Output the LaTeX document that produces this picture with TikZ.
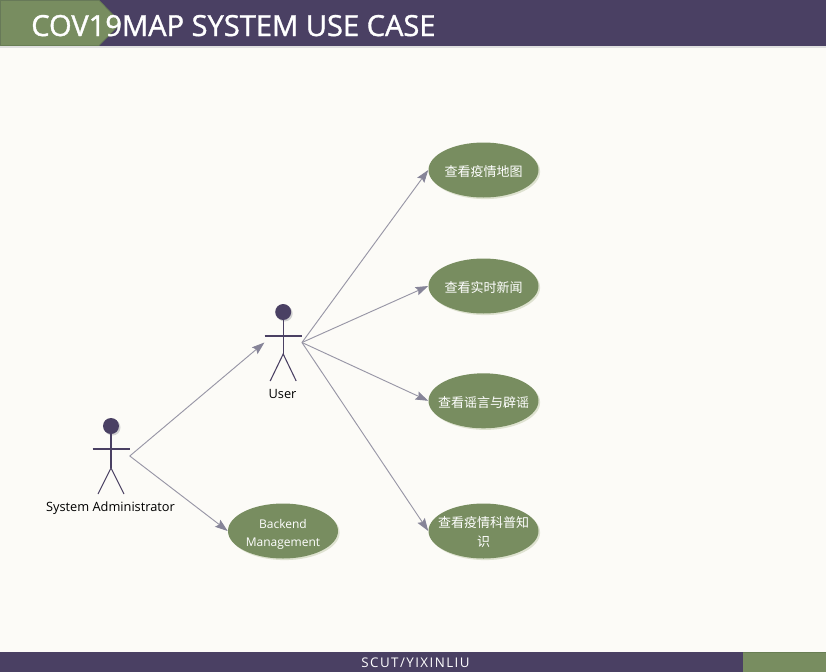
\documentclass[tikz,border=0pt]{standalone}
\usepackage{fontspec}
\setmainfont{Open Sans}
\newfontfamily\cjk{Noto Sans CJK SC}
\newfontfamily\titlefont[FakeBold=1.2]{Open Sans}
\newfontfamily\footfont[LetterSpace=11]{Open Sans}
\usetikzlibrary{arrows.meta,shapes.geometric}
\definecolor{bgc}{RGB}{252,251,247}
\definecolor{purp}{RGB}{74,64,99}
\definecolor{grn}{RGB}{120,141,96}
\definecolor{grnd}{RGB}{104,126,84}
\definecolor{shad}{RGB}{222,226,208}
\definecolor{linec}{RGB}{152,150,166}
\definecolor{tipc}{RGB}{134,132,152}
\tikzset{
  x=0.75pt,y=-0.75pt,
  usecase/.style={ellipse,fill=grn,minimum width=82.5pt,minimum height=41.25pt,inner xsep=-7pt,inner ysep=-3pt,
    text=white,align=center,font=\fontsize{9.75}{13.5}\selectfont,text width=72pt,
    preaction={draw=none,fill=shad,transform canvas={shift={(1.2pt,-1.2pt)}}}},
  actorbox/.style={rectangle,minimum width=27.75pt,minimum height=57.5pt,inner sep=0pt,draw=none},
  actorline/.style={draw=purp,line width=0.8pt},
  actorlabel/.style={font=\fontsize{9.6}{11}\selectfont,text=black,inner sep=0pt},
  conn/.style={draw=linec,line width=0.7pt,-{Stealth[length=9.5pt,width=6.5pt,inset=1.5pt,color=tipc]}},
  band/.style={fill=purp,draw=none},
}
\begin{document}
\begin{tikzpicture}
\useasboundingbox (0,0) rectangle (826,672);
\fill[bgc] (0,0) rectangle (826,672);
% header
\fill[black!12] (0,45) rectangle (826,47.5);
\fill[band] (0,0) rectangle (826,45.5);
\fill[grn,draw=grnd,line width=0.5pt] (0.3,0.3) -- (99,0.3) -- (121,23) -- (99,45.5) -- (0.3,45.5) -- cycle;
\node[anchor=base west,inner sep=0pt,text=white,font=\titlefont\fontsize{21.8}{24}\selectfont] (title) at (31,36) {COV19MAP SYSTEM USE CASE};
% footer
\fill[band] (0,652) rectangle (826,672);
\fill[grn] (743,652.5) rectangle (826,672);
\draw[grnd,line width=0.5pt] (743,652.5) -- (826,652.5);
\node[inner sep=0pt,text=white,font=\footfont\fontsize{10}{11}\selectfont] (footer) at (415.5,663) {SCUT/YIXINLIU};
% actors
\node[actorbox] (user) at (283.2,342.5) {};
\node[actorbox] (admin) at (111,456) {};
\foreach \a/\hy/\ay/\by/\fy in {user/-30.5/-6.5/11.5/38.5, admin/-30/-7/12/38}{
  \begin{scope}[shift={(\a.center)}]
    \fill[black!18] (1.5,\hy+1.5) circle[radius=8];
    \fill[purp] (0,\hy) circle[radius=8];
    \draw[actorline] (0,\hy) -- (0,\by);
    \draw[actorline] (-18.5,\ay) -- (18.5,\ay);
    \draw[actorline] (-13,\fy) -- (0,\by) -- (13,\fy);
  \end{scope}
}
\node[actorlabel] (ulabel) at (282.5,393.5) {User};
\node[actorlabel] (alabel) at (110.5,508) {System Administrator};
% use cases
\node[usecase] (u1) at (483.5,170) {\rule{0pt}{11pt}\cjk 查看疫情地图};
\node[usecase] (u2) at (483.5,286) {\rule{0pt}{11pt}\cjk 查看实时新闻};
\node[usecase] (u3) at (483.5,400.8) {\rule{0pt}{11pt}\cjk 查看谣言与辟谣};
\node[usecase] (u4) at (483.5,531) {\rule{0pt}{10pt}\cjk 查看疫情科普知\\[1.1pt]\cjk 识};
\node[usecase,font=\fontsize{9}{13.5}\selectfont] (u5) at (283,531) {\rule{0pt}{12pt}Backend\\Management};
% connectors
\draw[conn] (admin.east) -- (user.west);
\draw[conn] (admin.east) -- (u5.west);
\draw[conn] (user.east) -- (u1.west);
\draw[conn] (user.east) -- (u2.west);
\draw[conn] (user.east) -- (u3.west);
\draw[conn] (user.east) -- (u4.west);
\end{tikzpicture}
\end{document}
